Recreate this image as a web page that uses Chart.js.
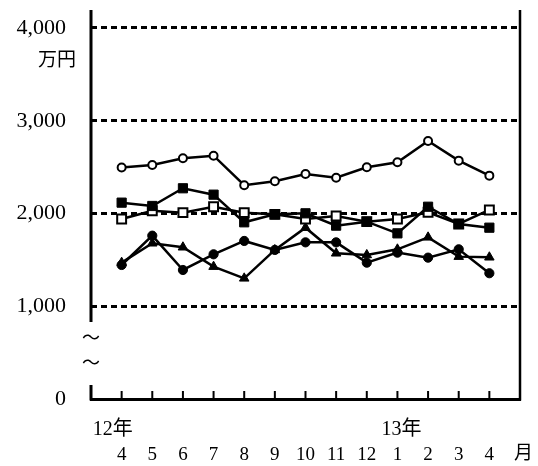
<!DOCTYPE html>
<html>
<head>
<meta charset="utf-8">
<script src="https://cdn.jsdelivr.net/npm/chart.js@4/dist/chart.umd.min.js"></script>
<style>
body { margin: 0; background: #fff; }
#wrap { width: 538px; height: 466px; }
</style>
</head>
<body>
<div id="wrap"><canvas id="c" width="538" height="466"></canvas></div>
<script>
// months, Apr 2012 .. Apr 2013
const months = ['4', '5', '6', '7', '8', '9', '10', '11', '12', '1', '2', '3', '4'];
const yearMarks = ['12年', '', '', '', '', '', '', '', '', '13年', '', '', ''];
const yTicks = [0, 1000, 2000, 3000, 4000];
const unitLabel = '万円';
const monthUnit = '月';

const openCircle = [2495, 2523, 2595, 2623, 2305, 2347, 2425, 2386, 2498, 2552, 2782, 2570, 2408];
const filledSquare = [2117, 2081, 2272, 2203, 1905, 1991, 2002, 1869, 1912, 1786, 2073, 1887, 1847];
const openSquare = [1941, 2030, 2009, 2073, 2009, 1991, 1941, 1973, 1912, 1941, 2013, 1887, 2038];
const filledTriangle = [1470, 1679, 1636, 1427, 1301, 1607, 1847, 1571, 1553, 1614, 1743, 1535, 1528];
const filledCircle = [1445, 1761, 1391, 1560, 1704, 1607, 1689, 1689, 1470, 1578, 1524, 1614, 1356];

const serif = "'Liberation Serif', 'Noto Sans CJK JP', serif";

function pts(arr) {
  return arr.map((v, i) => ({ x: i, y: v }));
}

function series(arr, style, radius, fill, bw) {
  return {
    data: pts(arr),
    borderColor: '#000',
    borderWidth: 2.5,
    pointStyle: style,
    pointRadius: radius,
    pointBackgroundColor: fill,
    pointBorderColor: '#000',
    pointBorderWidth: bw,
    tension: 0
  };
}

// axis frame with break, inside ticks, year marks and units
const framePlugin = {
  id: 'frame',
  afterDraw(chart) {
    const ctx = chart.ctx;
    const a = chart.chartArea;
    const xs = chart.scales.x, ys = chart.scales.y;
    ctx.save();
    ctx.strokeStyle = '#000';
    ctx.lineCap = 'butt';
    // left axis (broken)
    ctx.lineWidth = 3;
    ctx.beginPath();
    ctx.moveTo(a.left, a.top);
    ctx.lineTo(a.left, ys.getPixelForValue(830));
    ctx.moveTo(a.left, ys.getPixelForValue(150));
    ctx.lineTo(a.left, a.bottom + 1.5);
    ctx.stroke();
    // right axis
    ctx.lineWidth = 2.5;
    ctx.beginPath();
    ctx.moveTo(a.right, a.top);
    ctx.lineTo(a.right, a.bottom + 1.5);
    ctx.stroke();
    // inside ticks
    ctx.lineWidth = 2;
    ctx.beginPath();
    months.forEach((m, i) => {
      const px = xs.getPixelForValue(i);
      ctx.moveTo(px, a.bottom);
      ctx.lineTo(px, a.bottom - 8);
    });
    ctx.stroke();
    // break marks
    ctx.fillStyle = '#000';
    ctx.font = "18px 'Noto Sans CJK JP'";
    ctx.textAlign = 'center';
    ctx.textBaseline = 'middle';
    ctx.fillText('〜', a.left, ys.getPixelForValue(670));
    ctx.fillText('〜', a.left, ys.getPixelForValue(400));
    // year marks
    ctx.font = '20px ' + serif;
    ctx.textAlign = 'left';
    yearMarks.forEach((t, i) => {
      if (!t) return;
      const px = xs.getPixelForValue(i);
      ctx.fillText(t, px - (i === 0 ? 29 : 16), a.bottom + 31);
    });
    // units
    ctx.font = '19px ' + serif;
    ctx.fillText(monthUnit, xs.getPixelForValue(13) - 6, a.bottom + 55);
    ctx.textAlign = 'right';
    ctx.fillText(unitLabel, 76, ys.getPixelForValue(3640));
    ctx.restore();
  }
};

new Chart(document.getElementById('c'), {
  type: 'line',
  data: {
    datasets: [
      series(openCircle, 'circle', 4, '#fff', 2),
      series(filledSquare, 'rect', 6.5, '#000', 1),
      series(openSquare, 'rect', 6.3, '#fff', 2),
      series(filledTriangle, 'triangle', 5.5, '#000', 1),
      series(filledCircle, 'circle', 4.6, '#000', 1)
    ]
  },
  options: {
    responsive: false,
    animation: false,
    layout: { padding: { top: 10, right: 18, left: 0, bottom: 0 } },
    plugins: { legend: { display: false }, tooltip: { enabled: false } },
    scales: {
      x: {
        type: 'linear',
        min: -1,
        max: 13,
        afterFit(scale) {
          scale.height = 67;
          scale.paddingLeft = 0;
          scale.paddingRight = 0;
        },
        afterBuildTicks(scale) {
          scale.ticks = months.map((m, i) => ({ value: i }));
        },
        grid: { display: false, drawTicks: false },
        border: { display: true, color: '#000', width: 3 },
        ticks: {
          autoSkip: false,
          maxRotation: 0,
          padding: 45,
          color: '#000',
          font: { family: serif, size: 19 },
          callback: (v) => months[v] || ''
        }
      },
      y: {
        min: 0,
        max: 4194,
        afterFit(scale) {
          scale.width = 91;
          scale.paddingTop = 0;
          scale.paddingBottom = 0;
        },
        afterBuildTicks(scale) {
          scale.ticks = yTicks.map(v => ({ value: v }));
        },
        grid: {
          drawTicks: false,
          lineWidth: 3,
          color: (c) => (c.tick && c.tick.value === 0) ? 'rgba(0,0,0,0)' : '#000'
        },
        border: { display: false, dash: [6, 4] },
        ticks: {
          padding: 25,
          color: '#000',
          font: { family: serif, size: 22 },
          callback: (v) => v.toLocaleString('en-US')
        }
      }
    }
  },
  plugins: [framePlugin]
});
</script>
</body>
</html>
